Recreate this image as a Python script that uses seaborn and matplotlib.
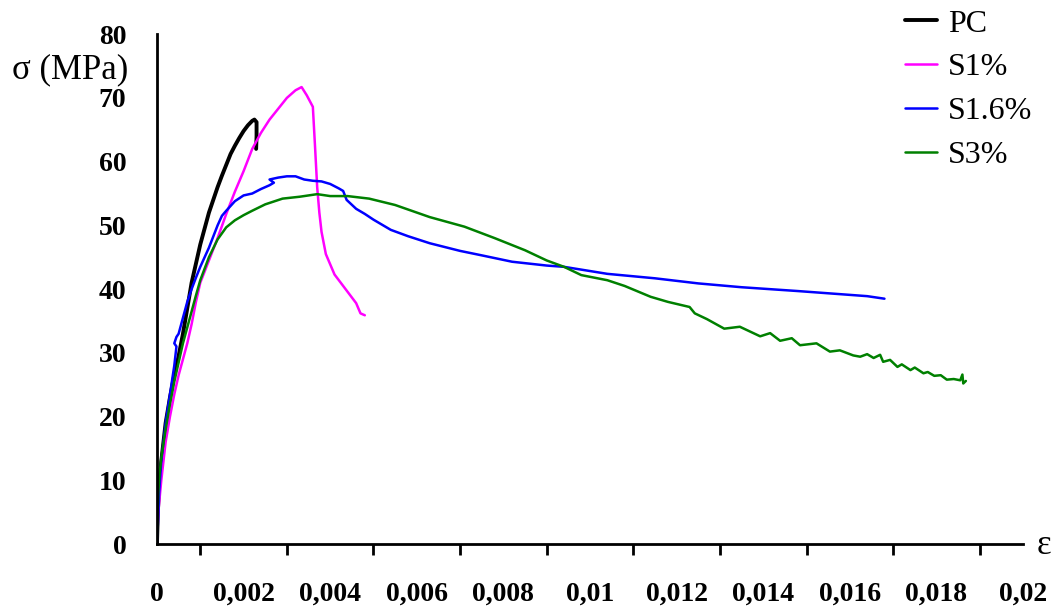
import matplotlib
matplotlib.use("Agg")
import matplotlib.pyplot as plt
import matplotlib.ticker as mticker
import seaborn as sns
import pandas as pd

# Stress-strain curves (strain, stress in MPa)
pc_strain = [0, 0.00002, 0.00005, 0.0001, 0.00015, 0.0002, 0.0003, 0.0004, 0.0005, 0.0006,
             0.0007, 0.0008, 0.0009, 0.001, 0.0011, 0.0012, 0.0013, 0.0014, 0.0015, 0.0016,
             0.0017, 0.0018, 0.0019, 0.002, 0.0021, 0.0022, 0.00225, 0.0023, 0.0023, 0.00229]
pc_stress = [0, 5, 9, 13, 16, 19, 23, 26.5, 29.5, 33,
             37, 41, 44, 47, 49.5, 52, 54, 56, 57.8, 59.5,
             61.2, 62.5, 63.7, 64.8, 65.7, 66.4, 66.6, 66.2, 64, 62]

s1_strain = [0, 0.00003, 0.0001, 0.0002, 0.0003, 0.0004, 0.0005, 0.0006, 0.0007, 0.0008,
             0.0009, 0.001, 0.0012, 0.0014, 0.0016, 0.0018, 0.002, 0.0022, 0.0024, 0.0026,
             0.0028, 0.003, 0.0032, 0.00334, 0.00346, 0.0036, 0.00365, 0.0037, 0.00375, 0.0038,
             0.0039, 0.0041, 0.0044, 0.0046, 0.0047, 0.0048]
s1_stress = [0, 5, 10, 16, 20, 23.5, 26.5, 29, 31.5, 34.5,
             38, 41, 44.5, 48, 51.8, 55.3, 58.5, 62, 64.5, 66.6,
             68.3, 70, 71.2, 71.7, 70.4, 68.6, 62.4, 56, 52, 49,
             45.5, 42.3, 39.6, 37.8, 36.2, 35.9]

s16_strain = [0, 0.00002, 0.00005, 0.0001, 0.0002, 0.0003, 0.0004, 0.00045, 0.0004, 0.00045,
              0.0005, 0.0006, 0.0007, 0.0008, 0.0009, 0.001, 0.0012, 0.0014, 0.0015, 0.0016,
              0.0018, 0.002, 0.0022, 0.0024, 0.0026, 0.0027, 0.0026, 0.0028, 0.003, 0.0032,
              0.0034, 0.0036, 0.0038, 0.004, 0.0042, 0.0043, 0.00438, 0.0046, 0.0048, 0.005,
              0.0054, 0.0058, 0.0063, 0.007, 0.0075, 0.0082, 0.009, 0.0094, 0.0104, 0.0115,
              0.0125, 0.0135, 0.0148, 0.0158, 0.0164, 0.0168]
s16_stress = [0, 3, 8, 13, 19, 23.5, 28, 31, 31.5, 32.5,
              33, 35.5, 38, 40, 41.8, 43.5, 46.5, 50, 51.5, 52.3,
              53.8, 54.7, 55, 55.7, 56.3, 56.7, 57.2, 57.5, 57.7, 57.7,
              57.2, 57.0, 56.9, 56.5, 55.8, 55.4, 54.0, 52.6, 51.8, 50.9,
              49.3, 48.3, 47.2, 46.0, 45.3, 44.3, 43.7, 43.5, 42.4, 41.7,
              40.9, 40.3, 39.7, 39.2, 38.9, 38.5]

s3_strain = [0, 0.00001, 0.00003, 0.00006, 0.0001, 0.0002, 0.0003, 0.0004, 0.0005, 0.0006,
             0.0007, 0.0008, 0.0009, 0.001, 0.0012, 0.0014, 0.0016, 0.0018, 0.002, 0.0022,
             0.0025, 0.0029, 0.0033, 0.0037, 0.004, 0.0044, 0.0049, 0.0055, 0.0063, 0.0071,
             0.0078, 0.0085, 0.009, 0.0094, 0.0098, 0.0104, 0.0108, 0.0114, 0.0118, 0.0123,
             0.01242, 0.0127, 0.0131, 0.01346, 0.01393, 0.01416, 0.01439, 0.01466, 0.01485, 0.01523,
             0.01554, 0.01577, 0.01608, 0.01624, 0.0164, 0.01655, 0.0167, 0.01677, 0.01693, 0.0171,
             0.0172, 0.0174, 0.0175, 0.0177, 0.0178, 0.01795, 0.0181, 0.01824, 0.0184, 0.01855,
             0.0186, 0.01862, 0.01868]
s3_stress = [0, 4, 8, 11, 13.5, 18, 22, 25.5, 28.5, 31.5,
             34, 36.5, 39, 41.4, 45, 47.8, 49.7, 50.8, 51.6, 52.3,
             53.3, 54.2, 54.5, 54.9, 54.6, 54.6, 54.2, 53.2, 51.3, 49.8,
             48.0, 46.1, 44.5, 43.5, 42.2, 41.4, 40.5, 38.8, 38.0, 37.2,
             36.2, 35.3, 33.8, 34.1, 32.6, 33.1, 31.9, 32.3, 31.2, 31.5,
             30.2, 30.4, 29.6, 29.4, 29.8, 29.2, 29.7, 28.6, 28.9, 27.8,
             28.2, 27.3, 27.7, 26.8, 27.0, 26.4, 26.5, 25.8, 25.9, 25.7,
             26.6, 25.2, 25.6]

series_names = ["PC", "S1%", "S1.6%", "S3%"]
series_colors = ["#000000", "#ff00ff", "#0000ff", "#008000"]
series_widths = [2.8, 1.8, 1.8, 1.8]

x_ticks = [0, 0.002, 0.004, 0.006, 0.008, 0.01, 0.012, 0.014, 0.016, 0.018, 0.02]
x_tick_labels = ["0", "0,002", "0,004", "0,006", "0,008", "0,01", "0,012", "0,014",
                 "0,016", "0,018", "0,02"]
y_ticks = [0, 10, 20, 30, 40, 50, 60, 70, 80]

frames = []
for name, xs, ys in zip(series_names,
                        [pc_strain, s1_strain, s16_strain, s3_strain],
                        [pc_stress, s1_stress, s16_stress, s3_stress]):
    frames.append(pd.DataFrame({"strain": xs, "stress": ys, "series": name}))
df = pd.concat(frames, ignore_index=True)

sns.set_theme(style="white")
plt.rcParams["font.family"] = ["Liberation Serif", "DejaVu Serif"]

fig = plt.figure(figsize=(10.62, 6.10), dpi=100)
ax = fig.add_axes([0.1478, 0.108, 0.8155, 0.836])

for name, color, lw in zip(series_names, series_colors, series_widths):
    sub = df[df["series"] == name]
    sns.lineplot(data=sub, x="strain", y="stress", sort=False, estimator=None,
                 color=color, linewidth=lw, label=name, ax=ax)

ax.set_xlim(0, 0.02)
ax.set_ylim(0, 80)
ax.set_xticks(x_ticks)
ax.set_xticklabels(x_tick_labels)
ax.xaxis.set_minor_locator(mticker.MultipleLocator(0.001))
ax.set_yticks(y_ticks)
ax.set_xlabel("")
ax.set_ylabel("")

for side in ["top", "right"]:
    ax.spines[side].set_visible(False)
for side in ["left", "bottom"]:
    ax.spines[side].set_color("black")
    ax.spines[side].set_linewidth(2)

ax.tick_params(axis="x", which="major", direction="out", length=12, width=2,
               color="black", pad=15, labelsize=20)
ax.tick_params(axis="x", which="minor", direction="out", length=8, width=2,
               color="black", bottom=True)
ax.tick_params(axis="y", which="major", direction="out", length=10, width=2,
               color="black", pad=12, labelsize=20)
for lbl in ax.get_xticklabels() + ax.get_yticklabels():
    lbl.set_fontweight("bold")
    lbl.set_color("black")

fig.text(0.011, 0.885, "σ (MPa)", fontsize=25, color="black", va="center", ha="left")
fig.text(0.976, 0.106, "ε", fontsize=25, color="black", va="center", ha="left")

leg = ax.legend(loc="upper left", bbox_to_anchor=(0.852, 0.985), bbox_transform=fig.transFigure,
                frameon=False, fontsize=23, handlelength=1.0, handletextpad=0.35,
                labelspacing=0.45, borderaxespad=0, borderpad=0)
for txt in leg.get_texts():
    txt.set_color("black")

fig.savefig("out.png", dpi=100)
